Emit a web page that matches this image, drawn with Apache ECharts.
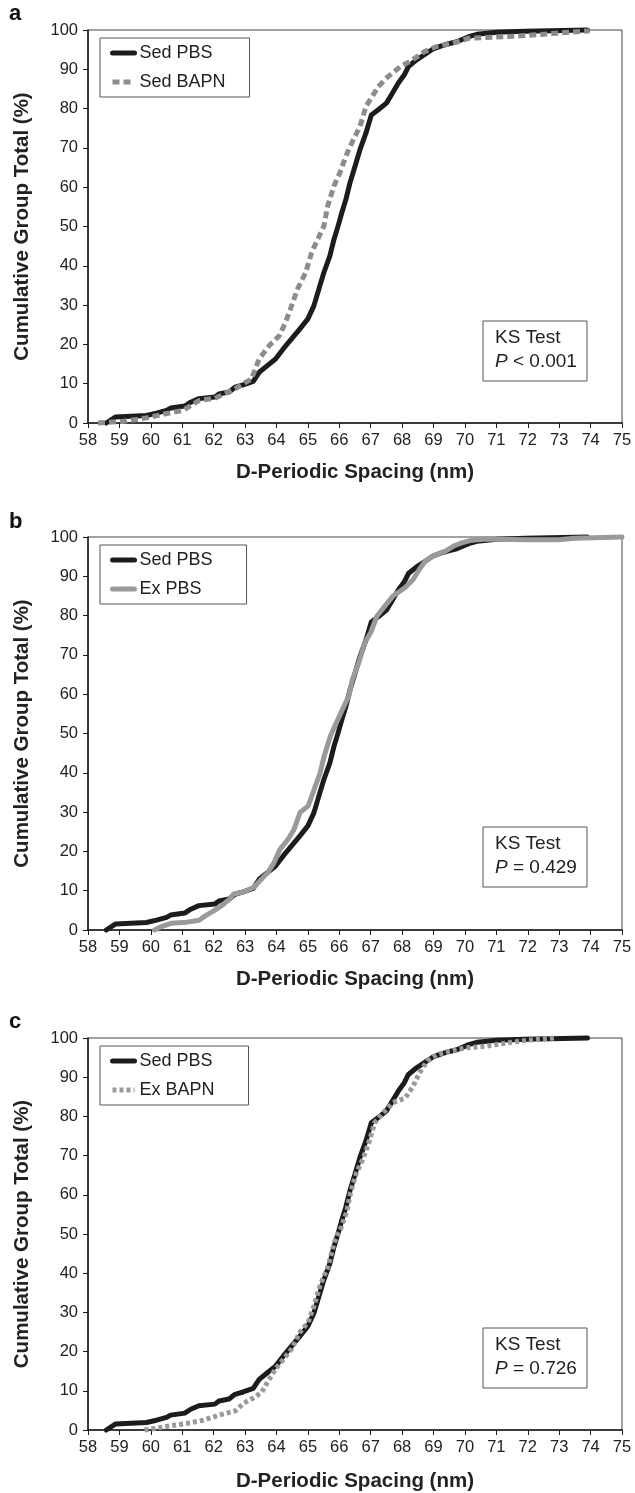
<!DOCTYPE html>
<html>
<head>
<meta charset="utf-8">
<script src="https://cdn.jsdelivr.net/npm/echarts@6/dist/echarts.min.js"></script>
<style>html,body{margin:0;padding:0;background:#fff}#c{width:635px;height:1493px}</style>
</head>
<body>
<div id="c"></div>
<script>
// ---- data ----
const xMin = 58, xMax = 75, xStep = 1;
const yMin = 0, yMax = 100, yStep = 10;
const panelLetters = ['a', 'b', 'c'];
const xTitle = 'D-Periodic Spacing (nm)';
const yTitle = 'Cumulative Group Total (%)';
const ksTitle = 'KS Test';
const ksP = ['< 0.001', '= 0.429', '= 0.726'];

const sedPBS_x = [58.58,58.87,59.86,60.18,60.5,60.63,61.08,61.27,61.53,62.04,62.17,62.49,62.68,62.94,63.26,63.45,63.71,63.97,64.22,64.48,64.74,65.0,65.19,65.38,65.51,65.7,65.83,65.96,66.08,66.21,66.34,66.47,66.66,66.85,67.02,67.24,67.5,67.69,67.88,68.07,68.2,68.46,68.71,68.97,69.23,69.48,69.74,70.12,70.38,71.02,71.92,73.9];
const sedPBS_y = [0,1.5,1.9,2.5,3.2,3.8,4.3,5.3,6.2,6.6,7.4,7.9,9.1,9.7,10.6,12.9,14.6,16.3,18.9,21.4,23.9,26.5,29.8,34.9,38.3,42.5,46.7,50.1,53.5,56.9,61.1,64.5,69.6,73.8,78.4,79.7,81.4,83.9,86.5,88.6,90.7,92.4,93.7,95.1,95.9,96.5,97.0,98.3,98.9,99.4,99.7,100];

const sedBAPN_x = [58.32,59.1,59.86,60.5,61.02,61.53,62.04,62.68,63.2,63.45,63.77,64.09,64.29,64.48,64.67,64.93,65.12,65.31,65.51,65.63,65.83,66.02,66.21,66.4,66.66,66.85,67.05,67.24,67.56,67.95,68.33,68.71,69.1,69.61,70.12,70.64,71.28,71.92,72.95,73.97];
const sedBAPN_y = [0,0.4,1.3,2.4,3.2,5.7,6.3,8.7,11.2,16.3,19.7,22.2,25.6,29.8,34.1,38.3,43.4,46.7,50.1,55.2,60.3,63.7,67.9,71.3,75.5,80.6,83.1,85.6,88.2,90.7,92.4,94.5,95.8,96.6,97.9,98.1,98.3,98.6,99.2,99.8];

const exPBS_x = [60.12,60.31,60.64,61.15,61.54,61.73,61.99,62.24,62.5,62.63,62.95,63.27,63.47,63.72,63.92,64.11,64.37,64.56,64.75,65.01,65.2,65.39,65.52,65.72,65.91,66.1,66.3,66.42,66.62,66.81,67.0,67.2,67.45,67.71,68.09,68.35,68.55,68.74,69.0,69.38,69.64,69.9,70.22,70.67,71.96,72.98,73.5,75];
const exPBS_y = [0,0.8,1.7,2.0,2.5,3.6,4.8,6.1,7.8,9.1,9.7,10.8,12.5,14.6,17.1,20.5,23.1,25.6,29.9,31.6,35.8,40.0,44.3,49.4,52.8,56.1,59.5,63.8,68.0,73.1,75.7,79.9,82.4,85.0,87.1,89.2,91.8,93.9,95.2,96.4,97.7,98.5,99.2,99.5,99.3,99.3,99.7,100];

const exBAPN_x = [59.8,60.12,60.64,61.15,61.67,62.18,62.7,62.95,63.27,63.53,63.72,63.98,64.24,64.49,64.75,65.01,65.2,65.39,65.65,65.84,66.04,66.23,66.36,66.55,66.75,66.94,67.13,67.39,67.71,68.1,68.35,68.55,68.8,69.12,69.51,70.02,70.67,71.31,71.95,72.85];
const exBAPN_y = [0,0.4,1.1,1.7,2.5,3.8,4.9,6.8,8.2,9.6,12.3,15.7,18.2,20.8,25.0,27.5,31.8,36.9,41.9,47.9,51.3,55.5,60.6,65.7,69.1,73.3,78.4,80.9,83.5,84.7,87.7,91.1,94.1,95.8,96.6,97.5,97.9,98.7,99.4,100];

const pairs = (xs, ys) => xs.map((x, i) => [x, ys[i]]);

// ---- layout ----
const FONT = '"Liberation Sans", Arial, sans-serif';
const panels = [
  { top: 30,   letterY: 23,   legendTop: 38,   ksTop: 321,  other: { name: 'Sed BAPN', x: sedBAPN_x, y: sedBAPN_y, color: '#8c8c8c', type: [7, 4], cap: 'butt' } },
  { top: 537,  letterY: 531,  legendTop: 545,  ksTop: 827,  other: { name: 'Ex PBS',   x: exPBS_x,   y: exPBS_y,   color: '#9a9a9a', type: 'solid', cap: 'round' } },
  { top: 1038, letterY: 1031, legendTop: 1046, ksTop: 1328, other: { name: 'Ex BAPN',  x: exBAPN_x,  y: exBAPN_y,  color: '#9a9a9a', type: [4, 3], cap: 'butt' } }
];
const GL = 88, GW = 534, GH = 393;

const grid = [], xAxis = [], yAxis = [], series = [], legend = [], graphic = [];
panels.forEach((p, i) => {
  grid.push({ left: GL, top: p.top, width: GW, height: GH, show: true, borderColor: '#444', borderWidth: 1, backgroundColor: 'transparent' });
  xAxis.push({
    type: 'value', gridIndex: i, min: xMin, max: xMax, interval: xStep,
    axisLine: { lineStyle: { color: '#1a1a1a', width: 1.5 } },
    axisTick: { length: 5, lineStyle: { color: '#1a1a1a', width: 1 } },
    axisLabel: { fontSize: 16.5, fontFamily: FONT, color: '#222', margin: 9 },
    splitLine: { show: false },
    name: xTitle, nameLocation: 'middle', nameGap: i === 2 ? 41 : 39,
    nameTextStyle: { fontSize: 20.5, fontWeight: 'bold', fontFamily: FONT, color: '#222' }
  });
  yAxis.push({
    type: 'value', gridIndex: i, min: yMin, max: yMax, interval: yStep,
    axisLine: { show: true, lineStyle: { color: '#1a1a1a', width: 1.5 } },
    axisTick: { show: true, length: 5, lineStyle: { color: '#1a1a1a', width: 1 } },
    axisLabel: { fontSize: 16.5, fontFamily: FONT, color: '#222', margin: 10 },
    splitLine: { show: false },
    name: yTitle, nameLocation: 'middle', nameGap: 55,
    nameTextStyle: { fontSize: 20.5, fontWeight: 'bold', fontFamily: FONT, color: '#222' }
  });
  const sedName = 'Sed PBS';
  series.push({
    id: 'sed' + i, name: sedName, type: 'line', xAxisIndex: i, yAxisIndex: i, symbol: 'none', clip: false,
    data: pairs(sedPBS_x, sedPBS_y),
    lineStyle: { color: '#1c1c1c', width: 5, cap: 'round', join: 'round' },
    itemStyle: { color: '#1c1c1c' }, z: 3
  });
  const o = p.other;
  series.push({
    id: 'oth' + i, name: o.name, type: 'line', xAxisIndex: i, yAxisIndex: i, symbol: 'none', clip: false,
    data: pairs(o.x, o.y),
    lineStyle: { color: o.color, width: 5, type: o.type, cap: o.cap, join: 'round' },
    itemStyle: { color: o.color }, z: 4
  });
  legend.push({
    data: [sedName, o.name], orient: 'vertical', left: 100, top: p.legendTop,
    itemWidth: 22, itemHeight: 14, itemGap: 11,
    padding: [6, i === 0 ? 24 : 34, 6, 10],
    backgroundColor: '#fff', borderColor: '#555', borderWidth: 1, borderRadius: 0,
    textStyle: { fontSize: 18, fontFamily: FONT, color: '#222' },
    itemStyle: { opacity: 0, borderWidth: 0 },
    lineStyle: { width: 5 }, selectedMode: false
  });
  graphic.push({
    type: 'text', left: 9, top: p.letterY - 20,
    style: { text: panelLetters[i], font: 'bold 22px ' + FONT, fill: '#111' }
  });
  graphic.push({
    type: 'rect', shape: { x: 483, y: p.ksTop, width: 104, height: 60 },
    style: { fill: '#fff', stroke: '#555', lineWidth: 1 }, z: 10
  });
  graphic.push({
    type: 'text', x: 495, y: p.ksTop + 17, z: 11,
    style: { text: ksTitle, font: '19px ' + FONT, fill: '#222', verticalAlign: 'middle' }
  });
  graphic.push({
    type: 'text', x: 495, y: p.ksTop + 41, z: 11,
    style: {
      text: '{i|P} ' + ksP[i], verticalAlign: 'middle', fill: '#222', font: '19px ' + FONT,
      rich: { i: { fontStyle: 'italic', fontSize: 19, fontFamily: FONT, fill: '#222' } }
    }
  });
});

const chart = echarts.init(document.getElementById('c'), null, { renderer: 'canvas' });
chart.setOption({ animation: false, backgroundColor: '#fff', grid, xAxis, yAxis, series, legend, graphic });
</script>
</body>
</html>
